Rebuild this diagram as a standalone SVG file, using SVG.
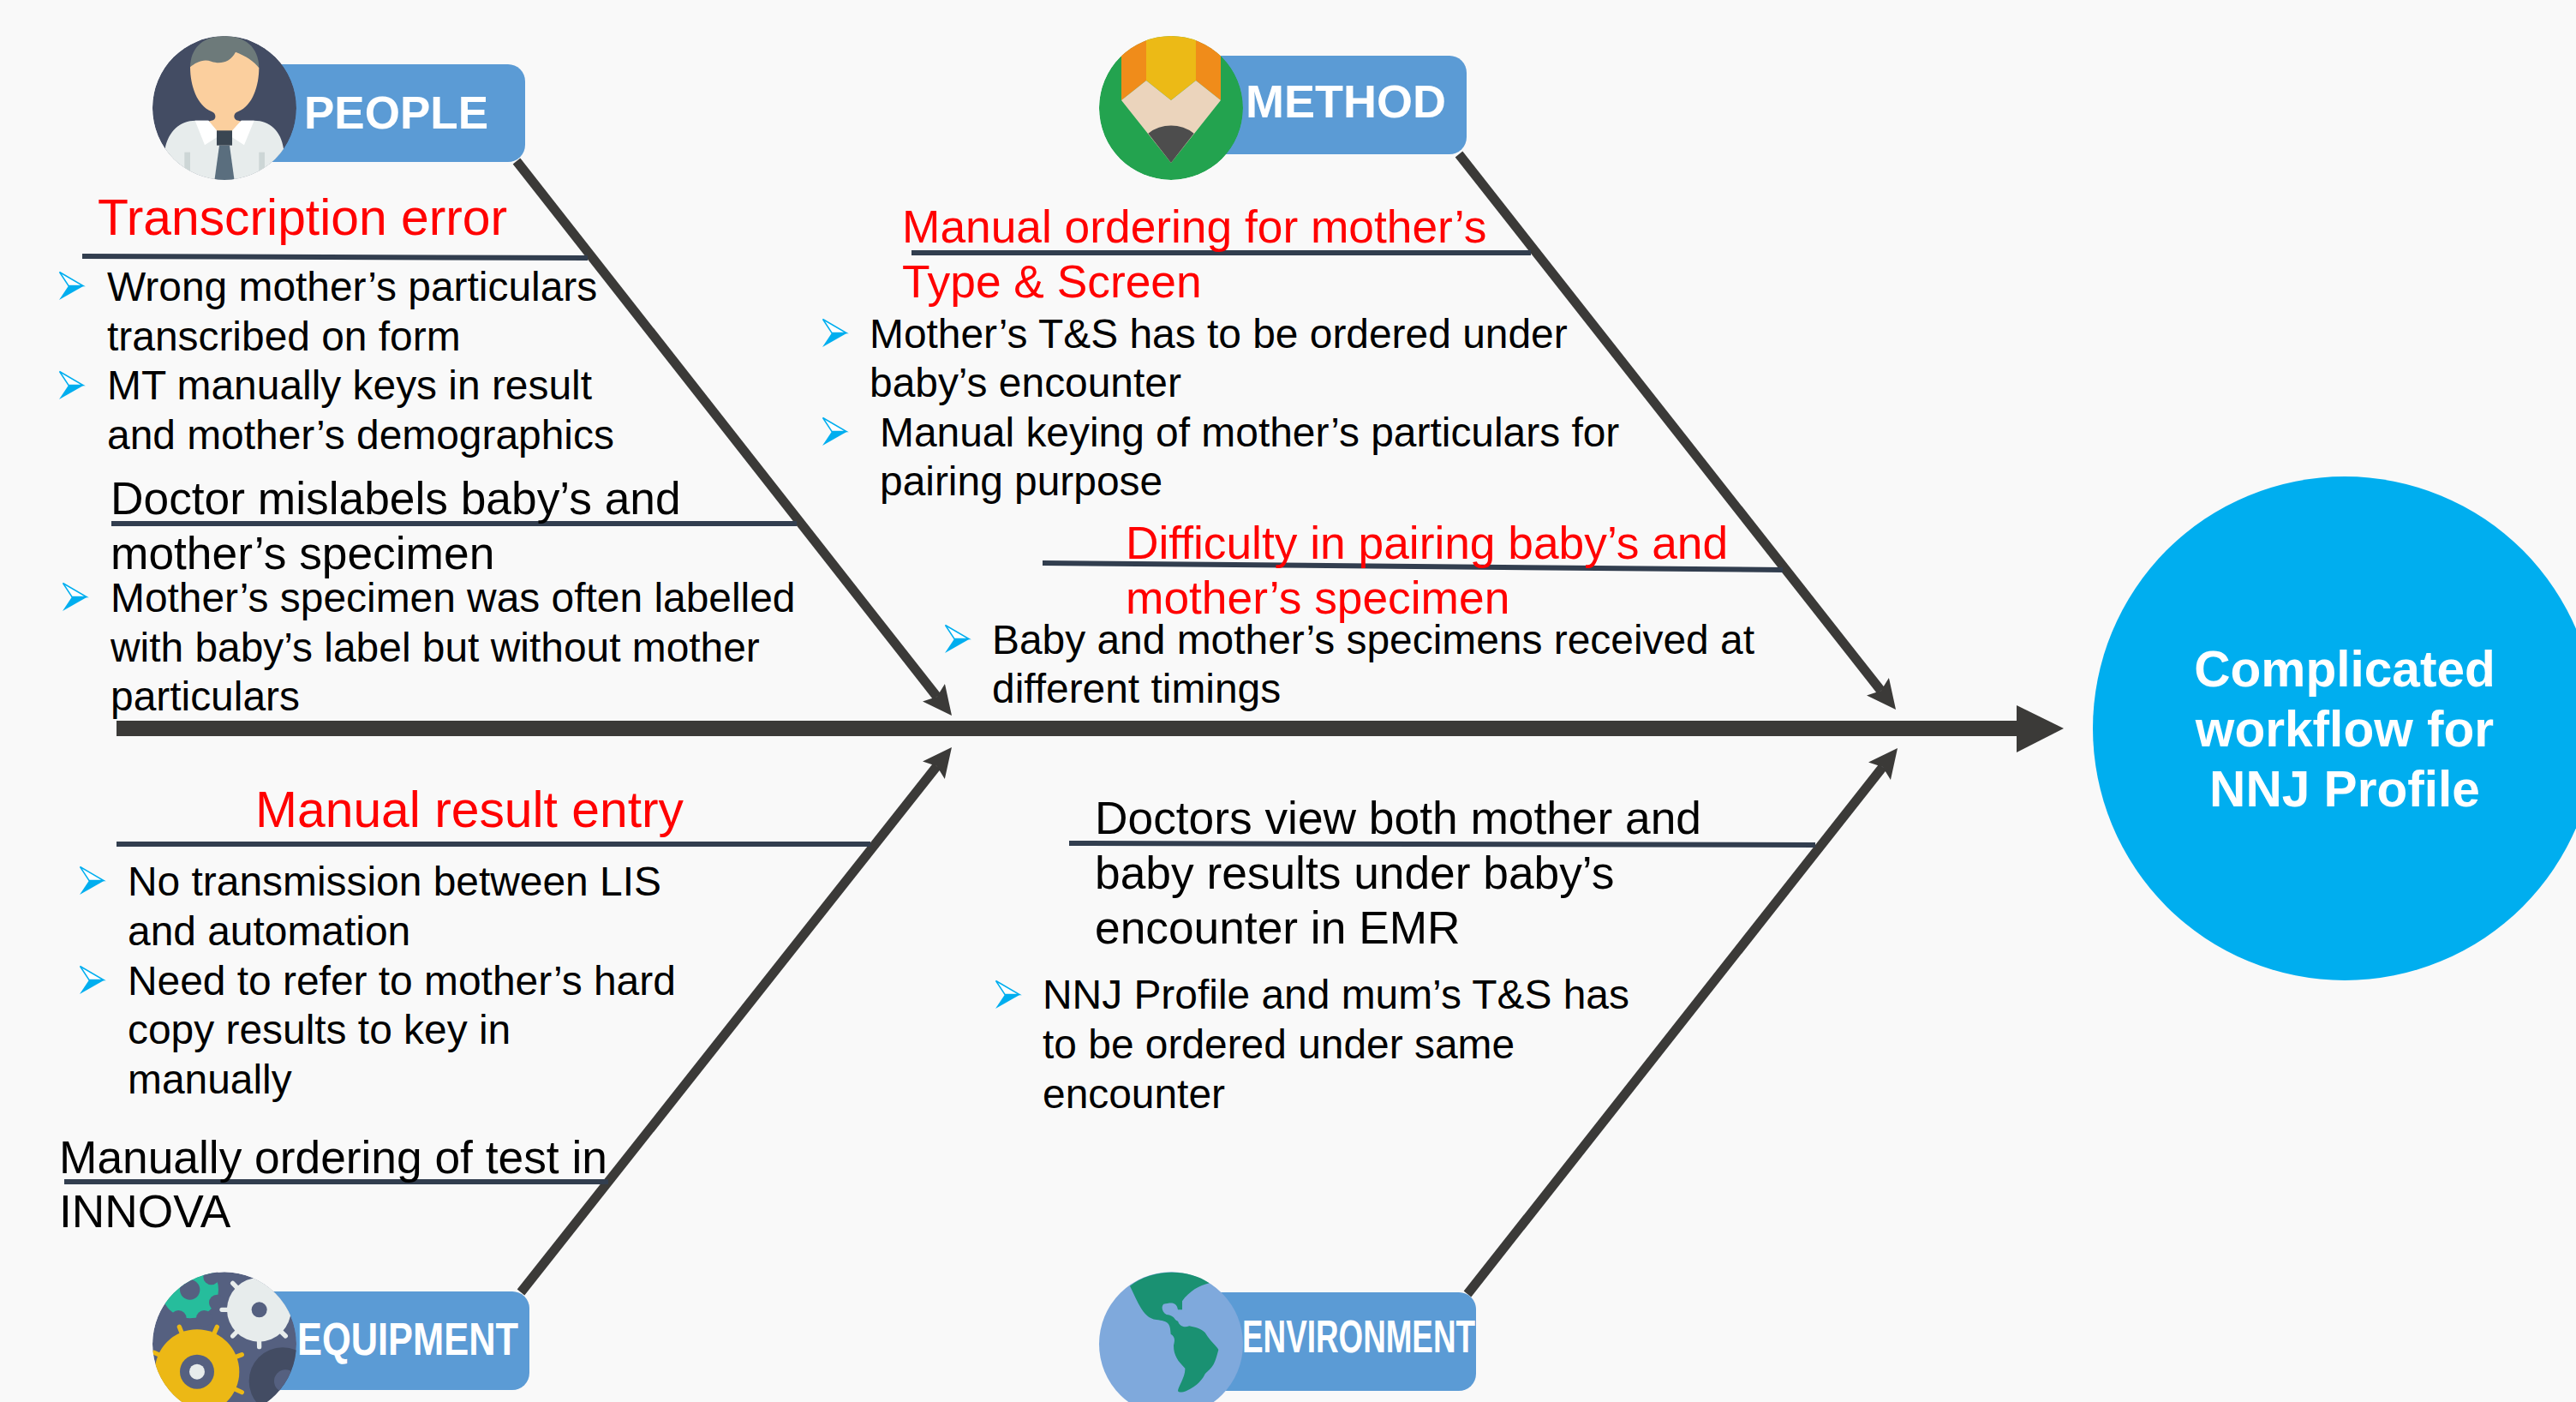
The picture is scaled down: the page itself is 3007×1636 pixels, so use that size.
<svg xmlns="http://www.w3.org/2000/svg" width="3007" height="1636" viewBox="0 0 3007 1636">
<style>
text{font-family:"Liberation Sans",Arial,sans-serif}
.b{font-size:47.9px;fill:#000}
.h{font-size:53.3px;fill:#000}
.r{font-size:53.3px;fill:#f00}
.R{font-size:58.8px;fill:#f00}
.lab{font-size:53px;font-weight:700;fill:#fff}
.tag{fill:#5b9bd5}
.bone{stroke:#3b3a38;stroke-width:11;fill:none;marker-end:url(#ah)}
.sub{stroke:#323e4f;stroke-width:6;fill:none}
.big{font-size:58.6px;font-weight:700;fill:#fff;text-anchor:middle}
</style>
<defs>
<marker id="ah" markerUnits="userSpaceOnUse" markerWidth="36" markerHeight="35" refX="6" refY="16.5" orient="auto" viewBox="0 0 36 35"><path d="M0,0L34,16.5L0,33L6,16.5Z" fill="#3b3a38"/></marker>
<g id="bul"><path d="M0,33L11,16.5L29,16.5Z" fill="#00aeef"/><path d="M.5,.5L28,16.5L11,16.5Z" fill="#fff" stroke="#00aeef" stroke-width="1.5"/></g>
<clipPath id="cP"><circle cx="336" cy="318" r="252"/></clipPath>
<clipPath id="cM"><circle cx="321" cy="318" r="252"/></clipPath>
<clipPath id="cE"><circle cx="336" cy="325" r="252"/></clipPath>
</defs>
<rect width="3007" height="1636" fill="#f9f9f9"/>
<g id="connectors">
<rect x="136" y="841" width="2220" height="18" fill="#3b3a38"/>
<path d="M2354,823L2409,850L2354,878Z" fill="#3b3a38"/>
<path class="bone" d="M603,188L1093.7,813"/>
<path class="bone" d="M1703,180L2195.7,806"/>
<path class="bone" d="M608,1508L1093.6,894"/>
<path class="bone" d="M1713,1510L2197.7,895"/>
<path class="sub" d="M96,299L686,301"/>
<path class="sub" d="M130,611L930,611"/>
<path class="sub" d="M1064,295L1787,295"/>
<path class="sub" d="M1217,657L2081,665"/>
<path class="sub" d="M136,985L1016,985"/>
<path class="sub" d="M75,1379L710,1379"/>
<path class="sub" d="M1248,984L2119,986"/>
</g>
<g id="center-circle"><circle cx="2737" cy="850" r="294" fill="#00aeef"/>
<text class="big" x="2737" y="801">Complicated</text><text class="big" x="2737" y="871">workflow for</text><text class="big" x="2737" y="941">NNJ Profile</text></g>
<g id="people">
<rect class="tag" x="230" y="75" width="383" height="114" rx="20"/>
<g transform="translate(150,20) scale(.3333)"><g clip-path="url(#cP)">
<circle cx="336" cy="318" r="252" fill="#434c63"/>
<path d="M216,178C216,100 270,66 336,66C402,66 457,100 457,180L400,200L250,200Z" fill="#6d7a7a"/>
<path d="M216,175C235,160 260,145 290,155C320,165 355,160 375,122C410,135 440,155 457,178C457,240 435,310 385,330C365,335 365,360 385,362L395,365L336,440L280,365L290,362C310,360 308,335 290,330C240,310 216,240 216,175Z" fill="#fbcf9e"/>
<path d="M128,460C140,400 180,362 235,362L280,362L336,430L395,362L440,362C495,362 535,400 543,460L543,600L128,600Z" fill="#e7ecec"/>
<path d="M233,362L280,362L310,398L310,420L267,448ZM440,362L395,362L362,398L362,420L405,448Z" fill="#fff"/>
<rect x="196" y="473" width="20" height="80" fill="#cdd6d6"/><rect x="457" y="473" width="20" height="80" fill="#cdd6d6"/>
<path d="M318,449L354,449L372,580L300,580Z" fill="#5a6e7e"/>
<rect x="309" y="397" width="54" height="52" fill="#3a4652"/>
</g></g>
<text class="lab" x="355" y="150">PEOPLE</text>
</g>
<g id="method">
<rect class="tag" x="1340" y="65" width="372" height="115" rx="20"/>
<g transform="translate(1260,20) scale(.3333)"><g clip-path="url(#cM)">
<circle cx="321" cy="318" r="252" fill="#23a34f"/>
<path d="M234,50L408,50L408,222L321,291L234,222Z" fill="#ecba16"/>
<path d="M147,50L234,50L234,222L147,291ZM408,50L495,50L495,291L408,222Z" fill="#f08c1a"/>
<path d="M147,291L234,222L321,291L408,222L495,291L321,510Z" fill="#ebd4bc"/>
<path d="M241,407A130,130 0 0 1 401,407L321,510Z" fill="#4d4d4d"/>
</g></g>
<text class="lab" x="1454" y="137" style="font-size:54px">METHOD</text>
</g>
<g id="equipment">
<rect class="tag" x="230" y="1507" width="388" height="115" rx="20"/>
<g transform="translate(150,1460) scale(.3333)"><g clip-path="url(#cE)">
<circle cx="336" cy="325" r="252" fill="#556080"/>
<circle cx="215" cy="135" r="100" fill="#26bd9c"/><circle cx="215" cy="135" r="35" fill="#556080"/>
<g fill="#556080"><circle cx="290" cy="90" r="28"/><circle cx="310" cy="180" r="28"/><circle cx="265" cy="235" r="28"/><circle cx="175" cy="235" r="28"/></g>
<circle cx="540" cy="455" r="118" fill="#434c63"/><circle cx="550" cy="455" r="40" fill="#556080"/>
<g stroke-linecap="round" stroke-width="16" stroke="#e7ecec"><path d="M455,205L365,112M455,205L327,205M455,205L365,297M455,205L458,335M455,205L550,297"/></g>
<circle cx="457" cy="205" r="112" fill="#e7ecec"/><circle cx="458" cy="205" r="27" fill="#556080"/>
<g stroke-linecap="round" stroke-width="16" stroke="#ecb815"><path d="M240,422L178,265M240,422L310,265M240,422L397,362M240,422L397,494M240,422L90,355"/></g>
<circle cx="240" cy="422" r="148" fill="#ecb815"/><circle cx="240" cy="422" r="60" fill="#556080"/><circle cx="240" cy="422" r="27" fill="#e7ecec"/>
</g></g>
<text class="lab" x="347" y="1581" textLength="258" lengthAdjust="spacingAndGlyphs">EQUIPMENT</text>
</g>
<g id="environment">
<rect class="tag" x="1340" y="1508" width="383" height="115" rx="20"/>
<g transform="translate(1260,1460) scale(.3333)">
<circle cx="321" cy="325" r="252" fill="#7fa9dc"/>
<path d="M177,122C210,190 225,235 270,240C310,245 318,250 320,290C335,300 335,310 330,330C330,365 345,385 370,410C372,440 345,475 345,490C355,505 420,475 440,430C465,405 472,405 487,345C480,330 465,325 440,285C425,270 400,265 385,262C365,270 350,260 345,245C330,240 335,225 305,222C290,215 285,195 295,185C320,180 340,175 345,205L360,205L360,175C385,140 420,120 455,112C380,58 250,62 177,122Z" fill="#1a9172"/>
</g>
<text class="lab" x="1450" y="1578" textLength="272" lengthAdjust="spacingAndGlyphs">ENVIRONMENT</text>
</g>
<g id="cause-transcription">
<text class="R" x="114" y="274">Transcription error</text>
<use href="#bul" x="69" y="317"/><use href="#bul" x="69" y="433"/>
<text class="b" x="125" y="351">Wrong mother’s particulars</text>
<text class="b" x="125" y="409">transcribed on form</text>
<text class="b" x="125" y="466">MT manually keys in result</text>
<text class="b" x="125" y="524">and mother’s demographics</text>
</g>
<g id="cause-mislabel">
<text class="h" x="129" y="600">Doctor mislabels baby’s and</text>
<text class="h" x="129" y="664">mother’s specimen</text>
<use href="#bul" x="73" y="680"/>
<text class="b" x="129" y="714">Mother’s specimen was often labelled</text>
<text class="b" x="129" y="772">with baby’s label but without mother</text>
<text class="b" x="129" y="829">particulars</text>
</g>
<g id="cause-ordering">
<text class="r" x="1053" y="283">Manual ordering for mother’s</text>
<text class="r" x="1053" y="347">Type &amp; Screen</text>
<use href="#bul" x="960" y="372"/><use href="#bul" x="960" y="487"/>
<text class="b" x="1015" y="406">Mother’s T&amp;S has to be ordered under</text>
<text class="b" x="1015" y="463">baby’s encounter</text>
<text class="b" x="1027" y="521">Manual keying of mother’s particulars for</text>
<text class="b" x="1027" y="578">pairing purpose</text>
</g>
<g id="cause-pairing">
<text class="r" x="1314" y="652">Difficulty in pairing baby’s and</text>
<text class="r" x="1314" y="716">mother’s specimen</text>
<use href="#bul" x="1103" y="729"/>
<text class="b" x="1158" y="763">Baby and mother’s specimens received at</text>
<text class="b" x="1158" y="820">different timings</text>
</g>
<g id="cause-manual-entry">
<text class="R" x="298" y="965">Manual result entry</text>
<use href="#bul" x="93" y="1011"/><use href="#bul" x="93" y="1127"/>
<text class="b" x="149" y="1045">No transmission between LIS</text>
<text class="b" x="149" y="1103">and automation</text>
<text class="b" x="149" y="1161">Need to refer to mother’s hard</text>
<text class="b" x="149" y="1218">copy results to key in</text>
<text class="b" x="149" y="1276">manually</text>
</g>
<g id="cause-innova">
<text class="h" x="69" y="1369">Manually ordering of test in</text>
<text class="h" x="69" y="1432">INNOVA</text>
</g>
<g id="cause-emr">
<text class="h" x="1278" y="973">Doctors view both mother and</text>
<text class="h" x="1278" y="1037">baby results under baby’s</text>
<text class="h" x="1278" y="1101">encounter in EMR</text>
<use href="#bul" x="1162" y="1144"/>
<text class="b" x="1217" y="1177">NNJ Profile and mum’s T&amp;S has</text>
<text class="b" x="1217" y="1235">to be ordered under same</text>
<text class="b" x="1217" y="1293">encounter</text>
</g>
</svg>
